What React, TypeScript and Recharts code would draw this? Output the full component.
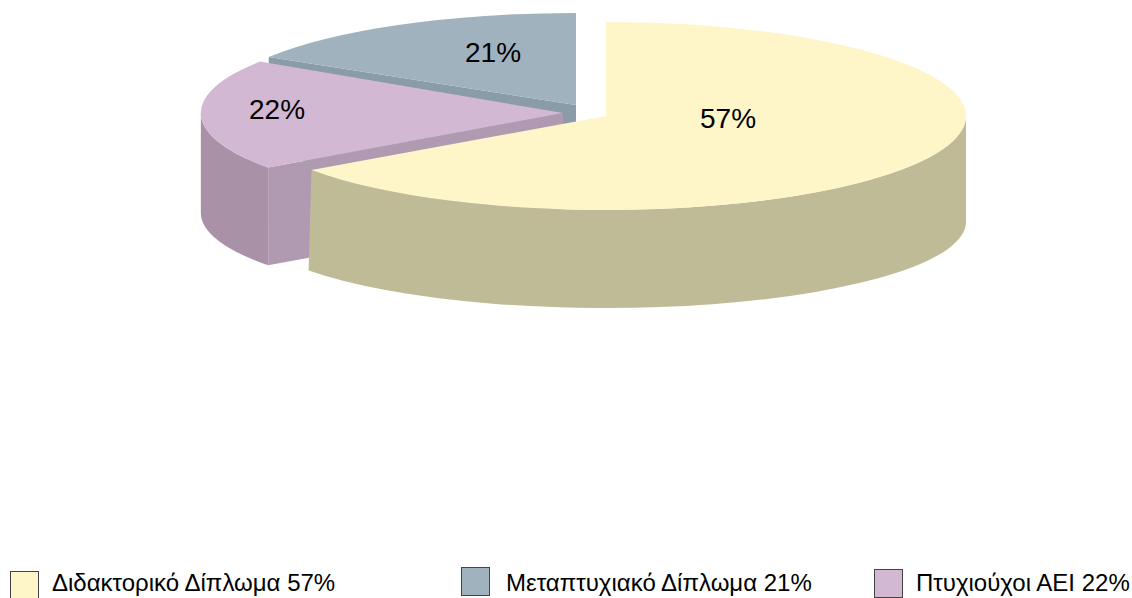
import { PieChart, Pie, Legend } from "recharts";

const drawOrder = ["Μεταπτυχιακό Δίπλωμα", "Πτυχιούχοι ΑΕΙ", "Διδακτορικό Δίπλωμα"];
const drawValues = [21, 22, 57];
const legendOrder = ["Διδακτορικό Δίπλωμα", "Μεταπτυχιακό Δίπλωμα", "Πτυχιούχοι ΑΕΙ"];

const pieData = drawOrder.map((name, i) => ({ name, value: drawValues[i] }));

const FONT = '"Liberation Sans", Arial, sans-serif';
const TILT = 0.261;
const DEPTH = 98;

// what each slice looks like, how far it is pulled out of the pie, and small
// fixes for the perspective of the original 3d view
const sliceStyles: Record<string, any> = {
  "Διδακτορικό Δίπλωμα": {
    top: "#FEF5C9", wall: "#BFBB97", face: "#BFBB97",
    dx: 0, dy: 0, sx: 1, sy: 1, startShift: -0.4, floorShift: -0.8, floorDrop: 106, floorRy: 86,
    labelX: 122, labelY: 2,
  },
  "Μεταπτυχιακό Δίπλωμα": {
    top: "#A0B2BE", wall: "#8A9CA8", face: "#8A9CA8",
    dx: -30, dy: -11, sx: 1, sy: 0.98, startShift: 0, floorShift: 0, floorDrop: 98, floorRy: 92,
    labelX: -83, labelY: -53,
  },
  "Πτυχιούχοι ΑΕΙ": {
    top: "#D2B8D3", wall: "#A991A8", face: "#B09AB2",
    dx: -43, dy: -3, sx: 1.006, sy: 1, startShift: -1.8, floorShift: 0, floorDrop: 100, floorRy: 90,
    labelX: -286, labelY: -4,
  },
};

const legendPlaces: Record<string, any> = {
  "Διδακτορικό Δίπλωμα": { box: 10, boxTop: 571, text: 52 },
  "Μεταπτυχιακό Δίπλωμα": { box: 461, boxTop: 567, text: 506 },
  "Πτυχιούχοι ΑΕΙ": { box: 874, boxTop: 569, text: 916 },
};

// the 3d view squeezes and stretches angles, so pie angles are bent onto the ellipse
const angleFrom = [90, 165.6, 244.8, 450];
const angleTo = [90, 148.6, 215.5, 450];

const bend = (angle: number) => {
  for (let i = 0; i < angleFrom.length - 1; i++) {
    if (angle <= angleFrom[i + 1]) {
      const t = (angle - angleFrom[i]) / (angleFrom[i + 1] - angleFrom[i]);
      return angleTo[i] + t * (angleTo[i + 1] - angleTo[i]);
    }
  }
  return angle;
};

const Slice3D = (props: any) => {
  const { cx, cy, outerRadius, startAngle, endAngle, name } = props;
  const style = sliceStyles[name];
  const x0 = cx + style.dx;
  const y0 = cy + style.dy;
  const rx = outerRadius * style.sx;
  const ry = outerRadius * TILT * style.sy;
  const a1 = bend(startAngle) + style.startShift;
  const a2 = bend(endAngle);

  const pt = (a: number) => {
    const r = (a * Math.PI) / 180;
    return [x0 + rx * Math.cos(r), y0 - ry * Math.sin(r)];
  };
  const floorPt = (a: number) => {
    const r = (a * Math.PI) / 180;
    return [x0 + rx * Math.cos(r), y0 + style.floorDrop - style.floorRy * Math.sin(r)];
  };
  const [sx, sy] = pt(a1);
  const [ex, ey] = pt(a2);
  const large = a2 - a1 > 180 ? 1 : 0;
  const topPath = `M${x0},${y0} L${sx},${sy} A${rx},${ry} 0 ${large} 0 ${ex},${ey} Z`;

  const [fx, fy] = floorPt(a2);
  const facePath = `M${x0},${y0} L${ex},${ey} L${fx},${fy} L${x0},${y0 + DEPTH} Z`;

  const w1 = Math.max(a1, 180);
  const w2 = Math.min(a2, 360);
  let wallPath = "";
  if (w2 > w1) {
    const [ax, ay] = pt(w1);
    const [bx, by] = pt(w2);
    const [cx2, cy2] = floorPt(w2);
    const [dx2, dy2] = floorPt(w1 + style.floorShift);
    wallPath =
      `M${ax},${ay} A${rx},${ry} 0 0 0 ${bx},${by} L${cx2},${cy2} ` +
      `A${rx},${style.floorRy} 0 0 1 ${dx2},${dy2} Z`;
  }

  return (
    <g>
      <path d={facePath} fill={style.face} />
      {wallPath && <path d={wallPath} fill={style.wall} />}
      <path d={topPath} fill={style.top} />
    </g>
  );
};

const renderLabel = (props: any) => {
  const style = sliceStyles[props.name];
  return (
    <text
      x={props.cx + style.dx + style.labelX}
      y={props.cy + style.dy + style.labelY}
      textAnchor="middle"
      dominantBaseline="central"
      fontFamily={FONT}
      fontSize={28}
      fill="#000"
    >
      {props.value}%
    </text>
  );
};

const renderLegend = () => (
  <div style={{ position: "relative", width: 1132, height: 598, overflow: "hidden" }}>
    {legendOrder.map((name) => {
      const place = legendPlaces[name];
      const value = drawValues[drawOrder.indexOf(name)];
      return (
        <div key={name}>
          <div
            style={{
              position: "absolute",
              left: place.box,
              top: place.boxTop,
              width: 29,
              height: 29,
              boxSizing: "border-box",
              background: sliceStyles[name].top,
              border: "1px solid #444",
            }}
          />
          <div
            style={{
              position: "absolute",
              left: place.text,
              top: 569,
              fontFamily: FONT,
              fontSize: 24,
              lineHeight: "28px",
              whiteSpace: "nowrap",
              color: "#000",
            }}
          >
            {name} {value}%
          </div>
        </div>
      );
    })}
  </div>
);

export default function App() {
  return (
    <div style={{ position: "fixed", left: 0, top: 0, width: 1132, height: 598, overflow: "hidden", background: "#fff" }}>
      <PieChart width={1132} height={598} margin={{ top: 0, right: 0, bottom: 0, left: 0 }}>
        <Pie
          data={pieData}
          dataKey="value"
          nameKey="name"
          cx={606}
          cy={116}
          outerRadius={360}
          startAngle={90}
          endAngle={450}
          stroke="none"
          shape={Slice3D}
          label={renderLabel}
          labelLine={false}
          isAnimationActive={false}
        />
        <Legend
          content={renderLegend}
          wrapperStyle={{ position: "absolute", left: 0, top: 0, width: 1132, height: 598, pointerEvents: "none" }}
        />
      </PieChart>
    </div>
  );
}
